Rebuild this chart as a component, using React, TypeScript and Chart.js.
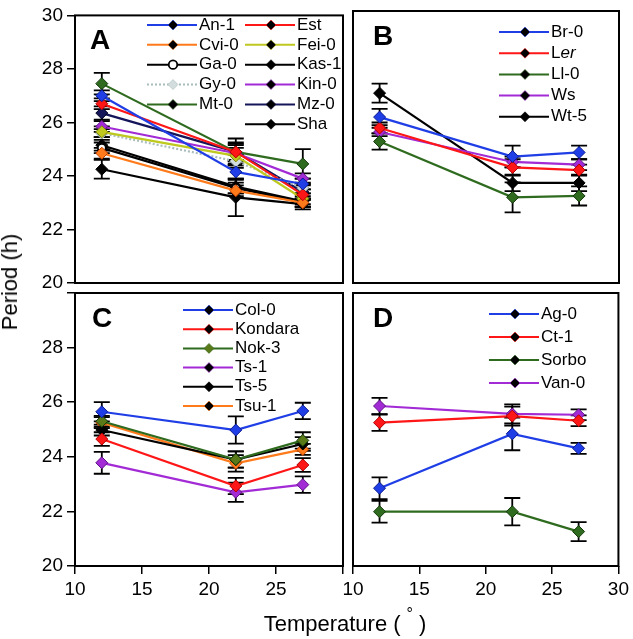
import React, { useEffect, useRef } from 'react';
import { Chart, registerables } from 'chart.js';
Chart.register(...registerables);

// ---------- data ----------
const temps = [12, 22, 27];
const yTicks = [20, 22, 24, 26, 28, 30];
const xTicks = [10, 15, 20, 25, 30];

// Panel A
const an1 = [27.0, 24.15, 23.7];   const an1Err = [0.2, 0.25, 0.2];
const est = [26.7, 24.9, 23.3];    const estErr = [0.2, 0.3, 0.2];
const cvi0 = [24.85, 23.45, 23.0]; const cvi0Err = [0.2, 0.2, 0.15];
const fei0 = [25.65, 24.75, 23.15]; const fei0Err = [0.2, 0.3, 0.2];
const ga0 = [25.05, 23.55, 23.0];  const ga0Err = [0.2, 0.2, 0.15];
const kas1 = [25.15, 23.6, 23.05]; const kas1Err = [0.2, 0.25, 0.2];
const gy0 = [25.6, 24.55, 23.55];  const gy0Err = [0.15, 0.25, 0.2];
const kin0 = [25.85, 24.85, 23.9]; const kin0Err = [0.2, 0.3, 0.2];
const mt0 = [27.45, 24.9, 24.45];  const mt0Err = [0.4, 0.35, 0.55];
const mz0 = [26.35, 24.9, 23.4];   const mz0Err = [0.25, 0.5, 0.25];
const sha = [24.25, 23.2, 22.95];  const shaErr = [0.35, 0.7, 0.2];

// Panel B
const br0 = [26.1, 24.65, 24.8];   const br0Err = [0.3, 0.4, 0.25];
const ler = [25.7, 24.25, 24.15];  const lerErr = [0.2, 0.3, 0.2];
const ll0 = [25.2, 23.15, 23.2];   const ll0Err = [0.3, 0.55, 0.35];
const ws = [25.55, 24.45, 24.35];  const wsErr = [0.15, 0.2, 0.2];
const wt5 = [26.98, 23.68, 23.68]; const wt5Err = [0.35, 0.3, 0.3];

// Panel C
const col0 = [25.65, 24.98, 25.68];  const col0Err = [0.35, 0.5, 0.3];
const kondara = [24.65, 22.93, 23.7]; const kondaraErr = [0.25, 0.3, 0.25];
const nok3 = [25.3, 23.9, 24.6];     const nok3Err = [0.2, 0.3, 0.3];
const ts1 = [23.78, 22.7, 22.98];    const ts1Err = [0.4, 0.35, 0.3];
const ts5 = [24.98, 23.9, 24.47];    const ts5Err = [0.2, 0.3, 0.25];
const tsu1 = [25.25, 23.76, 24.27];  const tsu1Err = [0.2, 0.3, 0.2];

// Panel D
const ag0 = [22.85, 24.84, 24.31];   const ag0Err = [0.4, 0.6, 0.2];
const ct1 = [25.25, 25.49, 25.32];   const ct1Err = [0.3, 0.35, 0.2];
const sorbo = [21.99, 21.99, 21.26]; const sorboErr = [0.4, 0.5, 0.35];
const van0 = [25.86, 25.57, 25.54];  const van0Err = [0.3, 0.35, 0.2];

// ---------- styles ----------
const FONT = '"Liberation Sans", Arial, Helvetica, sans-serif';
const BLUE = '#1f3ee6', BLUE_B = '#0a1a90';
const RED = '#ff1616', RED_B = '#b00000';
const ORANGE = '#ff7a1a', ORANGE_B = '#c04000';
const YG = '#bfc81e', YG_B = '#7d8410';
const PURPLE = '#a22bd6', PURPLE_B = '#601088';
const GREEN = '#2f6b1f', GREEN_B = '#12380a';
const NAVY = '#15155a', NAVY_B = '#000020';
const BLACK = '#000000';
const GRAY = '#a9bcbc', GRAY_F = '#d3dddd', GRAY_B = '#8aa0a0';

type Series = {
  label: string; values: number[]; errs: number[];
  color: string; border: string; fill?: string; marker?: string; dash?: number[];
};

const seriesA: Series[] = [
  { label: 'An-1', values: an1, errs: an1Err, color: BLUE, border: BLUE_B },
  { label: 'Est', values: est, errs: estErr, color: RED, border: RED_B },
  { label: 'Cvi-0', values: cvi0, errs: cvi0Err, color: ORANGE, border: ORANGE_B },
  { label: 'Fei-0', values: fei0, errs: fei0Err, color: YG, border: YG_B },
  { label: 'Ga-0', values: ga0, errs: ga0Err, color: BLACK, border: BLACK, fill: '#ffffff', marker: 'circle' },
  { label: 'Kas-1', values: kas1, errs: kas1Err, color: BLACK, border: BLACK },
  { label: 'Gy-0', values: gy0, errs: gy0Err, color: GRAY, border: GRAY_B, fill: GRAY_F, dash: [2, 2] },
  { label: 'Kin-0', values: kin0, errs: kin0Err, color: PURPLE, border: PURPLE_B },
  { label: 'Mt-0', values: mt0, errs: mt0Err, color: GREEN, border: GREEN_B },
  { label: 'Mz-0', values: mz0, errs: mz0Err, color: NAVY, border: NAVY_B },
  { label: 'Sha', values: sha, errs: shaErr, color: BLACK, border: BLACK },
];
const seriesB: Series[] = [
  { label: 'Br-0', values: br0, errs: br0Err, color: BLUE, border: BLUE_B },
  { label: 'Ler', values: ler, errs: lerErr, color: RED, border: RED_B },
  { label: 'Ll-0', values: ll0, errs: ll0Err, color: GREEN, border: GREEN_B },
  { label: 'Ws', values: ws, errs: wsErr, color: PURPLE, border: PURPLE_B },
  { label: 'Wt-5', values: wt5, errs: wt5Err, color: BLACK, border: BLACK },
];
const seriesC: Series[] = [
  { label: 'Col-0', values: col0, errs: col0Err, color: BLUE, border: BLUE_B },
  { label: 'Kondara', values: kondara, errs: kondaraErr, color: RED, border: RED_B },
  { label: 'Nok-3', values: nok3, errs: nok3Err, color: GREEN, border: GREEN_B, fill: '#5a7a1a' },
  { label: 'Ts-1', values: ts1, errs: ts1Err, color: PURPLE, border: PURPLE_B },
  { label: 'Ts-5', values: ts5, errs: ts5Err, color: BLACK, border: BLACK },
  { label: 'Tsu-1', values: tsu1, errs: tsu1Err, color: ORANGE, border: ORANGE_B },
];
const seriesD: Series[] = [
  { label: 'Ag-0', values: ag0, errs: ag0Err, color: BLUE, border: BLUE_B },
  { label: 'Ct-1', values: ct1, errs: ct1Err, color: RED, border: RED_B },
  { label: 'Sorbo', values: sorbo, errs: sorboErr, color: GREEN, border: GREEN_B },
  { label: 'Van-0', values: van0, errs: van0Err, color: PURPLE, border: PURPLE_B },
];

type LegendCol = { x: number; y0: number; step: number; items: Series[] };
type Panel = {
  letter: string; letterDx: number;
  left: number; right: number; top: number; bottom: number;
  yLabels: boolean; xLabels: boolean; hideY30?: boolean; hideX30?: boolean;
  series: Series[]; legend: LegendCol[];
};

const panels: Panel[] = [
  {
    letter: 'A', letterDx: 15, left: 75, right: 343, top: 11, bottom: 283,
    yLabels: true, xLabels: false, series: seriesA,
    legend: [
      { x: 147, y0: 25, step: 19.85, items: [seriesA[0], seriesA[2], seriesA[4], seriesA[6], seriesA[8]] },
      { x: 245, y0: 25, step: 19.85, items: [seriesA[1], seriesA[3], seriesA[5], seriesA[7], seriesA[9], seriesA[10]] },
    ],
  },
  {
    letter: 'B', letterDx: 20, left: 353, right: 619, top: 11, bottom: 283,
    yLabels: false, xLabels: false, series: seriesB,
    legend: [{ x: 499, y0: 32, step: 21.2, items: seriesB }],
  },
  {
    letter: 'C', letterDx: 17, left: 75, right: 343, top: 293, bottom: 566,
    yLabels: true, xLabels: true, hideY30: true, hideX30: true, series: seriesC,
    legend: [{ x: 183, y0: 310, step: 19.2, items: seriesC }],
  },
  {
    letter: 'D', letterDx: 20, left: 353, right: 619, top: 293, bottom: 566,
    yLabels: false, xLabels: true, series: seriesD,
    legend: [{ x: 489, y0: 314, step: 23, items: seriesD }],
  },
];

// ---------- plugins ----------
const errorBars = {
  id: 'errorBars',
  beforeDatasetsDraw(chart: any) {
    const ctx = chart.ctx;
    const ys = chart.scales.y;
    ctx.save();
    ctx.strokeStyle = '#000';
    ctx.lineWidth = 1.8;
    chart.data.datasets.forEach((d: any, di: number) => {
      const meta = chart.getDatasetMeta(di);
      meta.data.forEach((pt: any, i: number) => {
        const v = d.data[i].y;
        const e = d.errs[i];
        const y1 = ys.getPixelForValue(v + e);
        const y2 = ys.getPixelForValue(v - e);
        const x = pt.x;
        ctx.beginPath();
        ctx.moveTo(x, y1); ctx.lineTo(x, y2);
        ctx.moveTo(x - 8, y1); ctx.lineTo(x + 8, y1);
        ctx.moveTo(x - 8, y2); ctx.lineTo(x + 8, y2);
        ctx.stroke();
      });
    });
    ctx.restore();
  },
};

function drawMarker(ctx: CanvasRenderingContext2D, s: Series, x: number, y: number, r: number) {
  ctx.save();
  ctx.beginPath();
  if (s.marker === 'circle') {
    ctx.arc(x, y, r * 0.85, 0, Math.PI * 2);
  } else {
    ctx.moveTo(x, y - r); ctx.lineTo(x + r, y); ctx.lineTo(x, y + r); ctx.lineTo(x - r, y); ctx.closePath();
  }
  ctx.fillStyle = s.fill ?? s.color;
  ctx.fill();
  ctx.lineWidth = s.marker === 'circle' ? 1.8 : 0.6;
  ctx.strokeStyle = s.marker === 'circle' ? s.border : s.color;
  ctx.stroke();
  ctx.restore();
}

const deco = {
  id: 'deco',
  afterDraw(chart: any, _args: any, opts: any) {
    const p: Panel = opts.panel;
    if (!p) return;
    const ctx = chart.ctx;
    const a = chart.chartArea;
    ctx.save();
    ctx.strokeStyle = '#000';
    ctx.lineWidth = 2;
    ctx.strokeRect(a.left, a.top, a.right - a.left, a.bottom - a.top);
    // panel letter
    ctx.fillStyle = '#000';
    ctx.font = `bold 28px ${FONT}`;
    ctx.textBaseline = 'alphabetic';
    ctx.textAlign = 'left';
    ctx.fillText(p.letter, a.left + p.letterDx, a.top + 34);
    // legend
    ctx.font = `17px ${FONT}`;
    ctx.textBaseline = 'middle';
    p.legend.forEach((col) => {
      col.items.forEach((s, i) => {
        const y = col.y0 + i * col.step;
        ctx.save();
        ctx.strokeStyle = s.color;
        ctx.lineWidth = 2;
        ctx.setLineDash(s.dash ?? []);
        ctx.beginPath();
        ctx.moveTo(col.x, y); ctx.lineTo(col.x + 50, y);
        ctx.stroke();
        ctx.restore();
        drawMarker(ctx, s, col.x + 26, y, 5);
        ctx.fillStyle = '#000';
        const tx = col.x + 52;
        if (s.label === 'Ler') {
          ctx.font = `17px ${FONT}`;
          ctx.fillText('L', tx, y);
          const w = ctx.measureText('L').width;
          ctx.font = `italic 17px ${FONT}`;
          ctx.fillText('er', tx + w, y);
          ctx.font = `17px ${FONT}`;
        } else {
          ctx.fillText(s.label, tx, y);
        }
      });
    });
    ctx.restore();
  },
};

function toDataset(s: Series) {
  return {
    label: s.label,
    data: temps.map((t, i) => ({ x: t, y: s.values[i] })),
    errs: s.errs,
    borderColor: s.color,
    backgroundColor: s.fill ?? s.color,
    borderWidth: 2.2,
    borderDash: s.dash ?? [],
    pointStyle: s.marker === 'circle' ? 'circle' : 'rectRot',
    pointRadius: s.marker === 'circle' ? 4 : 6,
    pointBackgroundColor: s.fill ?? s.color,
    pointBorderColor: s.border,
    pointBorderWidth: s.marker === 'circle' ? 1.8 : 1,
    tension: 0,
  };
}

function PanelChart({ p }: { p: Panel }) {
  const ref = useRef<HTMLCanvasElement | null>(null);
  useEffect(() => {
    if (!ref.current) return;
    const tickFont = { family: FONT, size: 19 };
    const xH = p.xLabels ? 639 - p.bottom : 0;
    const chart = new Chart(ref.current, {
      type: 'line',
      data: { datasets: p.series.map(toDataset) as any },
      plugins: [errorBars, deco],
      options: {
        animation: false,
        responsive: false,
        devicePixelRatio: 1,
        events: [],
        layout: {
          padding: {
            left: p.yLabels ? 0 : p.left,
            top: p.top,
            right: 633 - p.right,
            bottom: p.xLabels ? 0 : 639 - p.bottom,
          },
        },
        plugins: {
          legend: { display: false },
          tooltip: { enabled: false },
          deco: { panel: p },
        } as any,
        scales: {
          x: {
            type: 'linear', min: 10, max: 30,
            afterFit: (s: any) => { s.height = xH; },
            afterBuildTicks: (s: any) => { s.ticks = xTicks.map((v) => ({ value: v })); },
            ticks: {
              display: p.xLabels, autoSkip: false, maxRotation: 0, padding: 4,
              font: tickFont, color: '#000',
              callback: (v: any) => (p.hideX30 && v === 30 ? '' : String(v)),
            },
            grid: { drawOnChartArea: false, drawTicks: p.xLabels, tickLength: 8, color: '#000', lineWidth: 1.5 },
            border: { display: false },
          },
          y: {
            type: 'linear', min: 20, max: 30,
            afterFit: (s: any) => { s.width = p.yLabels ? p.left : 0; },
            afterBuildTicks: (s: any) => { s.ticks = yTicks.map((v) => ({ value: v })); },
            ticks: {
              display: p.yLabels, autoSkip: false, padding: 4,
              font: tickFont, color: '#000',
              callback: (v: any) => (p.hideY30 && v === 30 ? '' : String(v)),
            },
            grid: { drawOnChartArea: false, drawTicks: p.yLabels, tickLength: 8, color: '#000', lineWidth: 1.5 },
            border: { display: false },
          },
        },
      } as any,
    });
    return () => chart.destroy();
  }, [p]);
  return (
    <canvas
      ref={ref}
      width={633}
      height={639}
      style={{ position: 'absolute', left: 0, top: 0, width: 633, height: 639 }}
    />
  );
}

export default function App() {
  return (
    <div style={{ position: 'fixed', left: 0, top: 0, width: 633, height: 639, background: '#fff', overflow: 'hidden' }}>
      {panels.map((p) => (
        <PanelChart key={p.letter} p={p} />
      ))}
      <div
        style={{
          position: 'absolute', left: 10, top: 282, fontFamily: FONT, fontSize: 22, lineHeight: '22px',
          whiteSpace: 'nowrap', transform: 'translate(-50%, -50%) rotate(-90deg)', color: '#000',
        }}
      >
        Period (h)
      </div>
      <div
        style={{
          position: 'absolute', left: 345, top: 613, fontFamily: FONT, fontSize: 22, lineHeight: '22px',
          whiteSpace: 'nowrap', transform: 'translateX(-50%)', color: '#000',
        }}
      >
        Temperature (<span style={{ position: 'relative', top: -12, fontSize: 16, padding: '0 6px' }}>°</span>)
      </div>
    </div>
  );
}
